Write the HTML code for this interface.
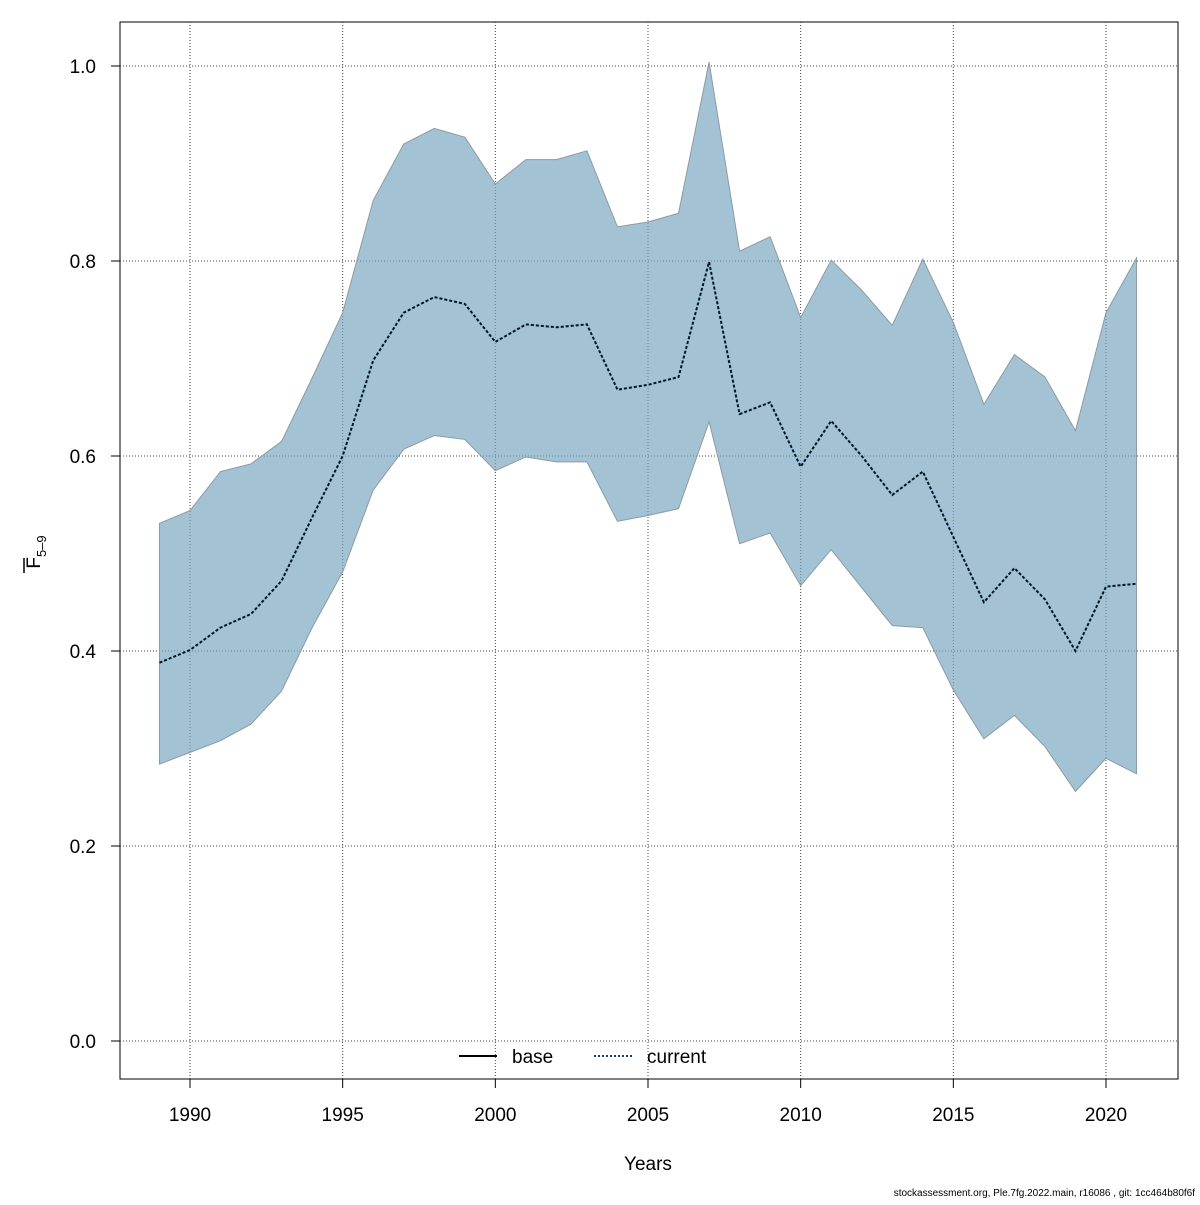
<!DOCTYPE html>
<html><head><meta charset="utf-8"><style>
body{margin:0;background:#fff}
svg text{font-family:"Liberation Sans",sans-serif;fill:#000}
</style></head><body>
<svg id="chart" width="1200" height="1200">
<rect x="120" y="22" width="1058" height="1057" fill="none" stroke="#000" stroke-width="1"/>
<g id="grid"></g>
<g id="band"></g>
<g id="lines"></g>
<g id="xt"></g>
<g id="yt"></g>
<text x="648" y="1170" font-size="19" text-anchor="middle">Years</text>
<g transform="translate(40,552) rotate(-90)">
<text x="0" y="0" font-size="19" text-anchor="middle">F<tspan font-size="13" dy="6">5–9</tspan></text>
<line x1="-21" y1="-16" x2="-6" y2="-16" stroke="#000" stroke-width="1.5"/>
</g>
<g>
<g>
<line x1="459" y1="1056" x2="497" y2="1056" stroke="#000" stroke-width="2"/>
<text x="512" y="1063" font-size="19">base</text></g>
<g>
<line x1="594" y1="1056" x2="632" y2="1056" stroke="#0b4a75" stroke-width="2" stroke-dasharray="2,2"/>
<text x="647" y="1063" font-size="19">current</text></g>
</g>
<text x="1195" y="1196" font-size="10" text-anchor="end">stockassessment.org, Ple.7fg.2022.main, r16086 , git: 1cc464b80f6f</text>
</svg>
<script>
const years=[1989,1990,1991,1992,1993,1994,1995,1996,1997,1998,1999,2000,2001,2002,2003,2004,2005,2006,2007,2008,2009,2010,2011,2012,2013,2014,2015,2016,2017,2018,2019,2020,2021];
const meanF=[0.388,0.401,0.424,0.438,0.472,0.537,0.600,0.698,0.747,0.763,0.756,0.717,0.735,0.732,0.735,0.668,0.673,0.681,0.799,0.643,0.655,0.589,0.636,0.600,0.560,0.584,0.517,0.450,0.485,0.453,0.400,0.466,0.469];
const upperF=[0.531,0.544,0.584,0.592,0.615,0.680,0.747,0.862,0.920,0.936,0.927,0.879,0.904,0.904,0.913,0.835,0.840,0.849,1.004,0.810,0.825,0.742,0.801,0.770,0.734,0.802,0.737,0.653,0.704,0.681,0.626,0.747,0.803];
const lowerF=[0.284,0.296,0.308,0.325,0.359,0.424,0.481,0.565,0.607,0.621,0.617,0.585,0.599,0.594,0.594,0.533,0.539,0.546,0.635,0.510,0.521,0.467,0.504,0.465,0.426,0.424,0.360,0.310,0.334,0.302,0.256,0.290,0.274];
const xTicks=[1990,1995,2000,2005,2010,2015,2020];
const yTicks=[0.0,0.2,0.4,0.6,0.8,1.0];
const NS='http://www.w3.org/2000/svg';
const X=y=>190+(y-1990)*(916/30);
const Y=v=>1041-v*975;
function mk(t,a,p){const e=document.createElementNS(NS,t);for(const k in a)e.setAttribute(k,a[k]);p.appendChild(e);return e;}
const grid=document.getElementById('grid'),xt=document.getElementById('xt'),yt=document.getElementById('yt');
xTicks.forEach(t=>{
 const g=mk('line',{x1:X(t),x2:X(t),y1:22,y2:1079,stroke:'#444','stroke-dasharray':'1,2','stroke-width':1},grid);
 
 
 const tk=mk('line',{x1:X(t),x2:X(t),y1:1079,y2:1088,stroke:'#000'},xt);
 
 
 const l=mk('text',{x:X(t),y:1121,'font-size':19,'text-anchor':'middle'},xt);l.textContent=t;
 
 
});
yTicks.forEach(t=>{
 const g=mk('line',{x1:120,x2:1178,y1:Y(t),y2:Y(t),stroke:'#444','stroke-dasharray':'1,2','stroke-width':1},grid);
 
 
 const tk=mk('line',{x1:111,x2:120,y1:Y(t),y2:Y(t),stroke:'#000'},yt);
 
 
 const l=mk('text',{x:96,y:Y(t)+7,'font-size':19,'text-anchor':'end'},yt);l.textContent=t.toFixed(1);
 
 
});
let pts=years.map((y,i)=>X(y)+','+Y(upperF[i]));
for(let i=years.length-1;i>=0;i--)pts.push(X(years[i])+','+Y(lowerF[i]));
const poly=mk('polygon',{points:pts.join(' '),fill:'rgba(120,166,192,0.68)',stroke:'#8a9ba5','stroke-width':1},document.getElementById('band'));


const mp=years.map((y,i)=>X(y)+','+Y(meanF[i])).join(' ');
const l1=mk('polyline',{points:mp,fill:'none',stroke:'#7fc4ea','stroke-width':2},document.getElementById('lines'));


const l2=mk('polyline',{points:mp,fill:'none',stroke:'#111','stroke-width':2,'stroke-dasharray':'3,2'},document.getElementById('lines'));


</script>
</body></html>
